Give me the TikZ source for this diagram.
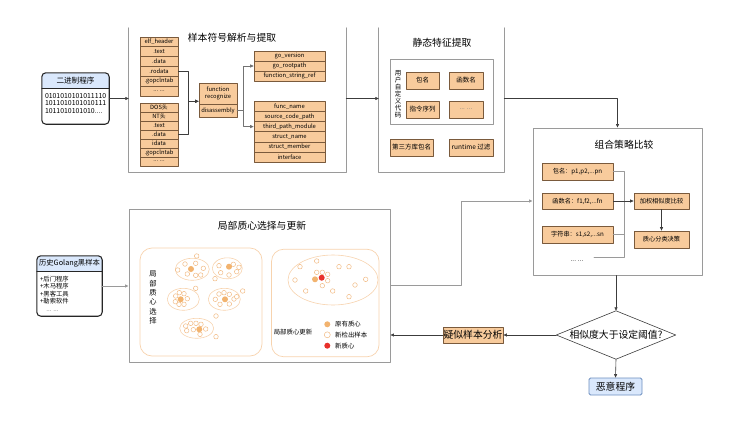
\documentclass[tikz,border=0pt]{standalone}
\usepackage{fontspec}
\setmainfont{Noto Sans CJK SC}
\usetikzlibrary{arrows.meta,calc}
\definecolor{cellfill}{HTML}{F8CB9C}
\definecolor{celldraw}{HTML}{7A5A3C}
\definecolor{hdrblue}{HTML}{DAE8FC}
\definecolor{maldraw}{HTML}{6C8EBF}
\definecolor{panelgray}{HTML}{9A9A9A}
\definecolor{linkgray}{HTML}{3C3C3C}
\definecolor{subline}{HTML}{F7D3AE}
\definecolor{ringline}{HTML}{F2BB85}
\definecolor{oldcent}{HTML}{F2B36F}
\definecolor{newcent}{HTML}{E8302A}
\newcommand{\etcdots}{... ...}

\begin{document}
\begin{tikzpicture}[x=1pt,y=-1pt,line cap=round,line join=round,
  cell/.style={draw=celldraw,fill=cellfill,line width=0.6pt,inner sep=0pt,font=\fontsize{5.8}{6.6}\selectfont},
  fbox/.style={cell,line width=0.7pt,font=\fontsize{6.5}{7}\selectfont},
  title/.style={font=\fontsize{9.8}{11}\selectfont,inner sep=0pt},
  panel/.style={inner sep=0pt},
  panelline/.style={draw=panelgray,line width=0.9pt},
  binline/.style={draw=black!85,line width=1.1pt},
  link/.style={draw=linkgray,line width=0.6pt,-{Triangle[length=3.5pt,width=3pt]}},
  glink/.style={draw=panelgray,line width=0.9pt,-{Triangle[length=3.5pt,width=3pt,fill=linkgray]}},
  thinlink/.style={draw=black!55,line width=0.7pt,-{Triangle[length=3.5pt,width=3pt,fill=linkgray]}},
  busline/.style={draw=panelgray,line width=0.8pt},
  subbox/.style={draw=subline,line width=0.7pt,rounded corners=12pt,inner sep=0pt},
  ring/.style={draw=subline,line width=0.6pt},
  dot/.style={draw=ringline,line width=0.5pt,fill=white},
  note/.style={font=\fontsize{6.4}{7}\selectfont,inner sep=0pt},
]
\useasboundingbox (0,0) rectangle (733,428);

\node[fill=white,inner sep=0pt,minimum width=67,minimum height=51] (bin) at (75.5,98.5) {};
\begin{scope}
  \clip[rounded corners=4pt] (bin.south west) rectangle (bin.north east);
  \fill[hdrblue] (bin.north west) rectangle ($(bin.north east)+(0,16)$);
\end{scope}
\draw[binline] ($(bin.north west)+(0,16)$) -- ($(bin.north east)+(0,16)$);
\draw[binline,rounded corners=4pt] (bin.south west) rectangle (bin.north east);
\node[font=\fontsize{7.6}{8}\selectfont] (binhd) at ($(bin.north)+(0,8)$) {二进制程序};
\node[anchor=north west,align=left,inner sep=0pt,font=\fontsize{6.9}{7.6}\selectfont] (binbd) at ($(bin.north west)+(3,20)$) {0101010101011110\\1011010101010111\\1011010101010....};

\node[fill=white,inner sep=0pt,minimum width=65,minimum height=60] (hist) at (69.5,286) {};
\begin{scope}
  \clip[rounded corners=4pt] (hist.south west) rectangle (hist.north east);
  \fill[hdrblue] (hist.north west) rectangle ($(hist.north east)+(0,16)$);
\end{scope}
\draw[binline] ($(hist.north west)+(0,16)$) -- ($(hist.north east)+(0,16)$);
\draw[binline,rounded corners=4pt] (hist.south west) rectangle (hist.north east);
\node[font=\fontsize{7.3}{8}\selectfont,inner sep=0pt] (histhd) at ($(hist.north)+(0,8)$) {历史Golang黑样本};
\node[anchor=north west,align=left,inner sep=0pt,font=\fontsize{6.3}{7.5}\selectfont] (histbd) at ($(hist.north west)+(3,20)$) {+后门程序\\+木马程序\\+黑客工具\\+勒索软件\\\quad\textcolor{black!60}{\etcdots}};

\node[panel,minimum width=217,minimum height=144] (symp) at (237.5,100) {};
\draw[panelline] (symp.north west) -- (symp.south west) -- (symp.south east) -- (symp.north east);
\node[title] (sympt) at (232,38) {样本符号解析与提取};

\foreach \lbl [count=\i] in {elf\_header,.text,.data,.rodata,.gopclntab,\etcdots}
  \node[cell,minimum width=38,minimum height=9.8] (elf\i) at (159,32.1+9.8*\i) {\lbl};
\foreach \lbl [count=\i] in {DOS头,NT头,.text,.data,idata,.gopclntab,\etcdots}
  \node[cell,minimum width=38,minimum height=9] (pe\i) at (159,98.5+9*\i) {\lbl};

\node[cell,minimum width=38,minimum height=21,align=center] (fr1) at (218,93.5) {function\\recognize};
\node[cell,minimum width=38,minimum height=13] (fr2) at (218,110.5) {disassembly};

\foreach \lbl [count=\i] in {go\_version,go\_rootpath,function\_string\_ref}
  \node[cell,minimum width=71,minimum height=10] (go\i) at (289.5,46+10*\i) {\lbl};
\foreach \lbl [count=\i] in {func\_name,source\_code\_path,third\_path\_module,struct\_name,struct\_member,interface}
  \node[cell,minimum width=71,minimum height=10.2] (fn\i) at (289.5,96+10.2*\i) {\lbl};

\coordinate (frin) at ($(fr1.south west)+(0,-3)$);
\draw[link] (elf4.east) -- ++(10,0) |- (frin);
\draw[link] (pe4.east) -- ++(10,0) |- (frin);
\draw[thinlink] (fr2.east) -- ++(6,0) |- (go2.west);
\draw[thinlink] (fr2.east) -- ++(6,0) |- (fn3.west);

\node[panel,minimum width=125,minimum height=144] (statp) at (441.5,100) {};
\draw[panelline] (statp.north west) -- (statp.south west) -- (statp.south east) -- (statp.north east);
\node[title] (statpt) at (442,43) {静态特征提取};
\node[draw=panelgray,line width=0.8pt,minimum width=103,minimum height=65] (ud) at (441.5,91.5) {};
\node[align=center,inner sep=0pt,font=\fontsize{6.5}{7}\selectfont] (udt) at (398,94) {用\\户\\自\\定\\义\\代\\码};
\node[fbox,minimum width=33,minimum height=17] (pkg) at (422.5,80.5) {包名};
\node[fbox,minimum width=34,minimum height=17] (fnm) at (466,80.5) {函数名};
\node[fbox,minimum width=33,minimum height=17] (ins) at (422.5,109.5) {指令序列};
\node[fbox,minimum width=34,minimum height=17] (etc) at (466,109.5) {\textcolor{black!50}{\etcdots}};
\node[fbox,minimum width=43,minimum height=17] (third) at (411.5,147.5) {第三方库包名};
\node[fbox,minimum width=44,minimum height=17] (rt) at (471,147.5) {runtime 过滤};

\node[draw=panelgray,line width=0.9pt,minimum width=169,minimum height=147] (combp) at (617.5,201.5) {};
\node[title] (combpt) at (624,145) {组合策略比较};
\node[fbox,minimum width=71,minimum height=17,font=\fontsize{6.2}{7}\selectfont] (pkl) at (577.5,171.5) {包名：p1,p2,...pn};
\node[fbox,minimum width=71,minimum height=16,font=\fontsize{6.2}{7}\selectfont] (fnl) at (577.5,201) {函数名：f1,f2,...fn};
\node[fbox,minimum width=71,minimum height=17,font=\fontsize{6.2}{7}\selectfont] (strl) at (577.5,234.5) {字符串：s1,s2,...sn};
\node[note] (moredots) at (577,261) {\etcdots};
\node[fbox,minimum width=55,minimum height=16,font=\fontsize{6.2}{7}\selectfont] (wcmp) at (661.5,201) {加权相似度比较};
\node[fbox,minimum width=55,minimum height=17,font=\fontsize{6.2}{7}\selectfont] (cdec) at (661.5,239.5) {质心分类决策};
\coordinate (busb) at (624,257);
\draw[busline] (pkl.east) -| (busb) -- ++(-30,0);
\draw[busline] (strl.east) -- (strl.east -| busb);
\draw[link] (fnl.east) -- (wcmp.west);
\draw[link] (wcmp.south) -- (cdec.north);

\node[panel,draw=panelgray,line width=0.9pt,minimum width=261,minimum height=153] (locp) at (259.5,285.5) {};
\node[title] (locpt) at (262,226) {局部质心选择与更新};
\node[subbox,minimum width=122,minimum height=108] (subl) at (201,302) {};
\node[subbox,minimum width=107.5,minimum height=107.5] (subr) at (325.3,303) {};
\node[align=center,inner sep=0pt,font=\fontsize{7.3}{9.3}\selectfont] (loct) at (153,297.5) {局\\部\\质\\心\\选\\择};

\foreach \cx/\cy/\rx/\ry in {192.3/269.3/17/11,227.3/268.3/15/10.5,183.3/299.3/16/11,224.3/299.3/16/11,196.7/328.3/17/10,333/280/45/25}
  \draw[ring] (\cx,\cy) ellipse [x radius=\rx, y radius=\ry];
\foreach \px/\py in {177.7/270,185/264,195.7/263.3,203.3/268.3,200.7/275,195.7/275.3,187.3/274,196.7/256,
  219/265.7,233.3/264.3,239/267.3,236.7/271.7,229/275,220.7/272.7,215/278.7,
  175.7/296,179.3/292.7,184/293.7,187.3/298.7,184/304.3,179/304.3,175.3/301.7,195.7/288.3,
  219/294,224/292.7,229.3/294.3,234/299,229.3/304,220/304.3,215.3/299.3,236.7/296.7,242.7/291,216/316,
  185.7/326,190.7/323.3,196/323.3,201/324.3,205.7/329,200/334.3,193.3/329.7,186.7/330.7,216/336.7,
  300/266.7,316.7/261,339/266.7,349/266.7,295/280,316.7/272.3,322.3/272.3,327.7/274.3,327.7/280.7,
  322.3/285.7,365.7/279.3,355/285,305.7/291,332.7/291,349/296.7}
  \draw[dot] (\px,\py) circle [radius=2.3];
\foreach \px/\py in {191/269,229/266.7,180.7/299.3,225/299.3,199.3/329.3,315/279.3}
  \fill[oldcent] (\px,\py) circle [radius=3];
\fill[newcent] (321.7,277.7) circle [radius=3];

\node[note] (lgt) at (293,332) {局部质心更新};
\fill[oldcent] (327.3,324.3) circle [radius=3];
\draw[dot] (327.3,334.8) circle [radius=3];
\fill[newcent] (327.3,345.7) circle [radius=3];
\node[note,anchor=west] (lg1) at (335,324.3) {原有质心};
\node[note,anchor=west] (lg2) at (335,334.8) {新检出样本};
\node[note,anchor=west] (lg3) at (335,345.7) {新质心};

\node[inner sep=0pt,minimum width=119,minimum height=48,font=\fontsize{9.8}{11}\selectfont] (dec) at (616,335) {相似度大于设定阈值?};
\draw[draw=linkgray,line width=0.6pt] (dec.north) -- (dec.east) -- (dec.south) -- (dec.west) -- cycle;
\node[cell,line width=0.8pt,minimum width=60,minimum height=16,font=\fontsize{9.8}{11}\selectfont] (sus) at (473,335) {疑似样本分析};
\node[draw=maldraw,fill=hdrblue,line width=0.8pt,rounded corners=1.5pt,inner sep=0pt,minimum width=53,minimum height=17,font=\fontsize{9.8}{11}\selectfont] (mal) at (615.5,386.5) {恶意程序};

\draw[link] (bin.east) -- (bin.east -| symp.west);
\draw[link] (symp.east |- bin.east) -- (statp.west |- bin.east);
\draw[link] (statp.east |- bin.east) -| (combp.north);
\draw[glink] (hist.east) -- (hist.east -| locp.west);
\draw[glink] (locp.east) -- ++(71,0) |- (combp.west |- fnl.west);
\draw[link] (dec.north |- combp.south) -- (dec.north);
\draw[link] (dec.west) -- (sus.east);
\draw[link] (sus.west) -- (sus.west -| locp.east);
\draw[link] (dec.south) -- (mal.north);
\end{tikzpicture}
\end{document}
